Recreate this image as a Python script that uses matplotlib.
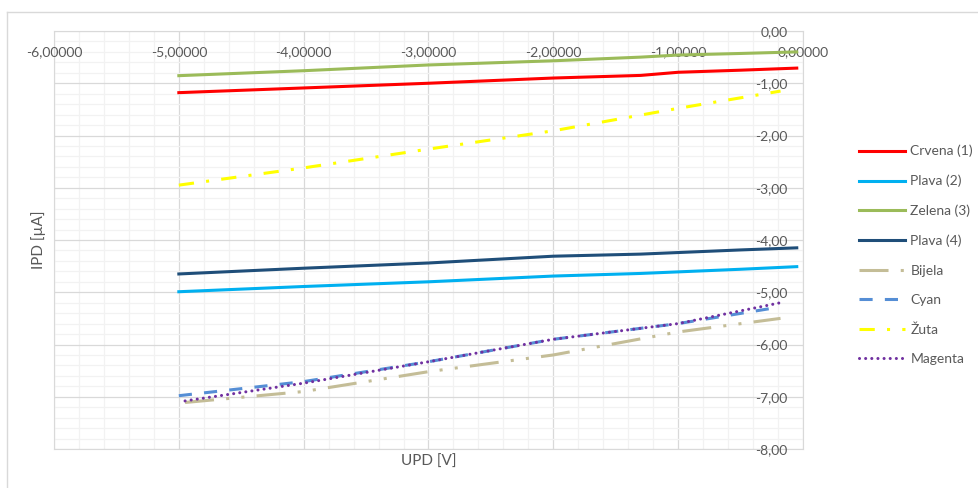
import matplotlib.pyplot as plt
from matplotlib.ticker import MultipleLocator, FuncFormatter
from matplotlib.lines import Line2D

# UPD [V] sample points per series
x_main = [-5.0, -4.0, -3.0, -2.0, -1.3, -1.0, -0.5, -0.05]
x_short = [-5.0, -4.0, -3.0, -2.0, -1.0, -0.18]
x_late = [-4.95, -4.0, -3.0, -2.0, -1.0, -0.18]

crvena = [-1.18, -1.09, -1.00, -0.90, -0.85, -0.79, -0.75, -0.71]
plava2 = [-4.99, -4.89, -4.80, -4.69, -4.64, -4.61, -4.56, -4.51]
zelena = [-0.855, -0.76, -0.65, -0.57, -0.50, -0.46, -0.43, -0.40]
plava4 = [-4.65, -4.54, -4.44, -4.31, -4.27, -4.24, -4.19, -4.15]
bijela = [-7.11, -6.90, -6.52, -6.20, -5.76, -5.50]
cyan = [-6.98, -6.71, -6.33, -5.90, -5.60, -5.28]
zuta = [-2.95, -2.62, -2.26, -1.91, -1.48, -1.15]
magenta = [-7.08, -6.74, -6.33, -5.90, -5.60, -5.20]

plt.rcParams['font.family'] = ['Lato', 'DejaVu Sans']
txt = '#595959'
lw = 2.2
pos = [54 / 979, 1 - 449 / 488, 749 / 979, 418 / 488]

fig = plt.figure(figsize=(9.79, 4.88), dpi=100)

# gridlines live on a background axes so they never cover the tick labels
gax = fig.add_axes(pos)
gax.set_xlim(-6, 0)
gax.set_ylim(-8, 0)
for a in (gax.xaxis, gax.yaxis):
    a.set_major_locator(MultipleLocator(1))
    a.set_minor_locator(MultipleLocator(0.2))
gax.grid(which='minor', color='#F2F2F2', lw=0.9)
gax.grid(which='major', color='#D9D9D9', lw=0.9)
gax.tick_params(which='both', length=0, labelbottom=False, labelleft=False)
for s in gax.spines.values():
    s.set_color('#D9D9D9')

ax = fig.add_axes(pos, sharex=gax, sharey=gax)
ax.patch.set_visible(False)
for s in ax.spines.values():
    s.set_visible(False)

ax.plot(x_main, crvena, color='#FF0000', lw=lw, label='Crvena (1)')
ax.plot(x_main, plava2, color='#00B0F0', lw=lw, label='Plava (2)')
ax.plot(x_main, zelena, color='#9BBB59', lw=lw, label='Zelena (3)')
ax.plot(x_main, plava4, color='#1F4E79', lw=lw, label='Plava (4)')
ax.plot(x_late, bijela, color='#C4BD97', lw=lw, dashes=(9.5, 4, 1, 4, 1, 4),
        label='Bijela')
ax.plot(x_short, cyan, color='#558ED5', lw=lw, dashes=(4.3, 4), label='Cyan')
ax.plot(x_short, zuta, color='#FFFF00', lw=lw, dashes=(5, 4, 1, 4), label='Žuta')
ax.plot(x_late, magenta, color='#7030A0', lw=lw, dashes=(0.01, 2),
        dash_capstyle='round', label='Magenta')

ax.set_xlim(-6, 0)
ax.set_ylim(-8, 0)
ax.xaxis.set_major_formatter(FuncFormatter(lambda v, p: f'{v:.5f}'.replace('.', ',')))
ax.yaxis.set_major_formatter(FuncFormatter(lambda v, p: f'{v:.2f}'.replace('.', ',')))

ax.xaxis.tick_top()
ax.yaxis.tick_right()
ax.tick_params(which='both', length=0, labelsize=10, labelcolor=txt)
ax.tick_params(axis='x', pad=-11)
ax.tick_params(axis='y', pad=-11)
for t in ax.get_xticklabels():
    t.set_va('top')
for t in ax.get_yticklabels():
    t.set_ha('right')

ax.xaxis.set_label_position('bottom')
ax.yaxis.set_label_position('left')
ax.set_xlabel('UPD [V]', color=txt, fontsize=11, labelpad=4)
ax.set_ylabel('IPD [µA]', color=txt, fontsize=11, labelpad=6)

fig.legend(loc='upper left', bbox_to_anchor=(852 / 979, 1 - 138 / 488),
           frameon=False, fontsize=10, labelcolor=txt, handlelength=3.3,
           handletextpad=0.4, labelspacing=1.25, borderpad=0)

# outer chart frame
fig.add_artist(Line2D([7 / 979, 7 / 979], [0, 1 - 12 / 488], color='#D9D9D9', lw=1))
fig.add_artist(Line2D([7 / 979, 1], [1 - 12 / 488, 1 - 12 / 488], color='#D9D9D9', lw=1))

fig.savefig('out.png', dpi=100)
